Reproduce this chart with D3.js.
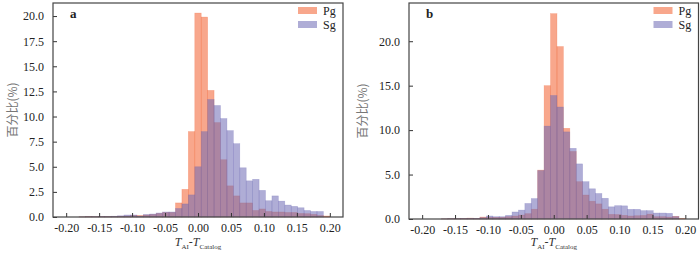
<!DOCTYPE html>
<html>
<head>
<meta charset="utf-8">
<script src="https://cdn.jsdelivr.net/npm/d3@7"></script>
<style>
  body { margin: 0; background: #fff; }
  svg { display: block; font-family: "Liberation Serif", "Times New Roman", serif; }
</style>
</head>
<body>
<div id="chart"></div>
<script>
// histogram bins: 41 equal bins between -0.2 and 0.2
var binLow = -0.2
var binHigh = 0.2
var binCount = 41

var seriesNames = ["Pg", "Sg"]

// panel a, percent per bin
var pgA = [0, 0, 0.02, 0.05, 0.03, 0.05, 0.05, 0.05, 0.08, 0.1,
           0.15, 0.15, 0.2, 0.25, 0.35, 0.45, 0.45, 1.4, 2.75, 8.5,
           20.3, 19.9, 12.6, 9.4, 5.7, 3.1, 2.1, 1.4, 1.4, 0.65,
           0.8, 0.55, 0.5, 0.5, 0.45, 0.45, 0.35, 0.33, 0.26, 0.15, 0.1]
var sgA = [0, 0, 0.02, 0.03, 0.03, 0.05, 0.05, 0.08, 0.12, 0.2,
           0.2, 0.1, 0.25, 0.3, 0.4, 0.5, 0.5, 0.85, 1.3, 2.2,
           5.0, 8.5, 11.7, 11.1, 9.8, 8.6, 7.3, 4.9, 3.6, 3.75,
           2.65, 1.62, 2.1, 1.58, 1.19, 1.06, 0.92, 0.65, 0.55, 0.55, 0]

// panel b, percent per bin
var pgB = [0, 0, 0, 0.02, 0.04, 0.04, 0.07, 0.1, 0.07, 0.22,
           0.19, 0.19, 0.19, 0.26, 0.34, 0.45, 0.6, 1.1, 5.5, 15.0,
           23.1, 19.4, 10.2, 7.6, 4.2, 2.7, 2.0, 1.7, 1.1, 0.52,
           0.5, 0.41, 0.34, 0.37, 0.4, 0.55, 0.26, 0.26, 0.22, 0.3, 0.07]
var sgB = [0, 0, 0, 0.02, 0.04, 0.04, 0.05, 0.07, 0.07, 0.15,
           0.34, 0.26, 0.26, 0.41, 0.79, 1.0, 1.75, 2.3, 5.45, 10.45,
           13.9, 12.6, 9.8, 7.95, 6.2, 4.2, 3.4, 2.87, 2.33, 1.37,
           1.5, 1.48, 1.09, 1.09, 0.94, 0.94, 0.67, 0.67, 0.64, 0.28, 0]

var xTicks = [-0.20, -0.15, -0.10, -0.05, 0.00, 0.05, 0.10, 0.15, 0.20]
var yTicksA = [0, 2.5, 5, 7.5, 10, 12.5, 15, 17.5, 20]
var yTicksB = [0, 5, 10, 15, 20]

var colors = {Pg: "#f25f2d", Sg: "#6e69b4"}
var alpha = 0.55

var width = 700
var height = 253

var svg = d3.select("#chart").append("svg")
    .attr("width", width)
    .attr("height", height)

draw_panel({label: "a", pg: pgA, sg: sgA, yTicks: yTicksA, yMax: 21.3,
            left: 53, right: 343, top: 3, bottom: 217, yTitleX: 13})
draw_panel({label: "b", pg: pgB, sg: sgB, yTicks: yTicksB, yMax: 24.3,
            left: 409, right: 698.5, top: 3, bottom: 219, yTitleX: 363})

function draw_panel(p) {
    var g = svg.append("g")
    var edges = d3.range(binCount + 1).map(function(i) {
        return binLow + i * (binHigh - binLow) / binCount
    })

    var x = d3.scaleLinear().domain([-0.22, 0.22]).range([p.left, p.right])
    var y = d3.scaleLinear().domain([0, p.yMax]).range([p.bottom, p.top])

    var series = [{name: "Pg", values: p.pg}, {name: "Sg", values: p.sg}]

    // bars, Pg first so Sg sits on top
    series.forEach(function(s) {
        g.append("g").selectAll("rect")
            .data(s.values)
            .enter()
            .append("rect")
            .attr("x", function(d, i) { return x(edges[i]) })
            .attr("width", function(d, i) { return x(edges[i + 1]) - x(edges[i]) })
            .attr("y", function(d) { return y(d) })
            .attr("height", function(d) { return y(0) - y(d) })
            .attr("fill", colors[s.name])
            .attr("fill-opacity", alpha)
            .attr("stroke", colors[s.name])
            .attr("stroke-opacity", 0.35)
            .attr("stroke-width", 0.6)
    })

    // axes, ticks point inward
    var xAxis = g.append("g")
        .attr("transform", "translate(0," + p.bottom + ")")
        .call(d3.axisBottom(x).tickValues(xTicks).tickFormat(d3.format(".2f"))
              .tickSizeInner(-4).tickSizeOuter(0).tickPadding(6))
    var yAxis = g.append("g")
        .attr("transform", "translate(" + p.left + ",0)")
        .call(d3.axisLeft(y).tickValues(p.yTicks).tickFormat(d3.format(".1f"))
              .tickSizeInner(-4).tickSizeOuter(0).tickPadding(9))

    ;[xAxis, yAxis].forEach(function(a) {
        a.select(".domain").remove()
        a.selectAll("line").attr("stroke", "#333").attr("stroke-width", 1)
        a.selectAll("text")
            .attr("font-family", "Liberation Serif")
            .attr("font-size", 12)
            .attr("fill", "#222")
    })
    xAxis.selectAll("text").text(function(d) { return d3.format(".2f")(d).replace("−", "-") })

    // frame
    g.append("rect")
        .attr("x", p.left)
        .attr("y", p.top)
        .attr("width", p.right - p.left)
        .attr("height", p.bottom - p.top)
        .attr("fill", "none")
        .attr("stroke", "#444")
        .attr("stroke-width", 1.2)

    // panel letter
    g.append("text")
        .attr("x", p.left + 17)
        .attr("y", p.top + 15)
        .attr("font-size", 13)
        .attr("font-weight", "bold")
        .attr("fill", "#222")
        .text(p.label)

    // legend
    var lg = g.append("g")
        .attr("transform", "translate(" + (p.right - 45) + "," + (p.top + 4) + ")")
    seriesNames.forEach(function(name, i) {
        lg.append("rect")
            .attr("x", 0)
            .attr("y", i * 14)
            .attr("width", 19)
            .attr("height", 7)
            .attr("fill", colors[name])
            .attr("fill-opacity", alpha)
        lg.append("text")
            .attr("x", 25)
            .attr("y", i * 14 + 7.5)
            .attr("font-size", 12)
            .attr("fill", "#222")
            .text(name)
    })

    // x title: T_AI - T_Catalog
    var xt = g.append("text")
        .attr("x", (p.left + p.right) / 2)
        .attr("y", 246)
        .attr("text-anchor", "middle")
        .attr("font-size", 12)
        .attr("fill", "#333")
    xt.append("tspan").attr("font-style", "italic").text("T")
    xt.append("tspan").attr("font-size", 7).attr("dy", 2.5).text("AI")
    xt.append("tspan").attr("dy", -2.5).text("-")
    xt.append("tspan").attr("font-style", "italic").text("T")
    xt.append("tspan").attr("font-size", 7).attr("dy", 2.5).text("Catalog")

    // y title
    g.append("text")
        .attr("transform", "translate(" + p.yTitleX + "," + ((p.top + p.bottom) / 2) + ") rotate(-90)")
        .attr("text-anchor", "middle")
        .attr("dy", "0.35em")
        .attr("font-family", "Noto Sans CJK SC")
        .attr("font-size", 12)
        .attr("fill", "#777")
        .text("百分比(%)")
}
</script>
</body>
</html>
